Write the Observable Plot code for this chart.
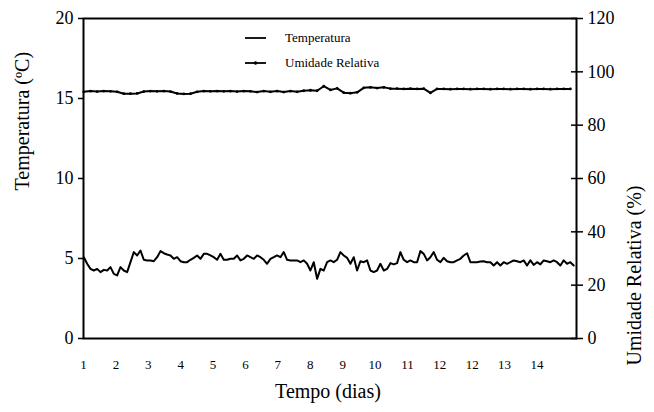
<!DOCTYPE html>
<html><head><meta charset="utf-8">
<script src="https://cdn.jsdelivr.net/npm/d3@7"></script>
<script src="https://cdn.jsdelivr.net/npm/@observablehq/plot@0.6"></script>
<style>
body{margin:0;background:#fff}
#wrap{position:relative;width:654px;height:412px}
#legend{position:absolute;left:0;top:0;pointer-events:none}
</style>
</head><body><div id="wrap"><div id="chart"></div></div>
<script>
const serif = "Liberation Serif, Times New Roman, serif";
// Rótulos do eixo X (como no original)
const rotulosX = ["1","2","3","4","5","6","7","8","9","10","11","12","12","13","14"];
// Escalas dos eixos
const ticksTemperatura = [0,5,10,15,20];
const ticksUmidade = [0,20,40,60,80,100,120];
// Amostragem: início e intervalo (dias)
const inicio = 1.01, passo = 0.10288;
// Temperatura (ºC), uma leitura por intervalo
const temperatura = [
5.08,4.67,4.35,4.25,4.35,4.15,4.29,4.25,4.46,4.04,3.94,4.46,4.25,4.15,4.77,5.40,5.19,5.50,4.92,4.88,
4.88,4.83,5.08,5.46,5.33,5.25,5.19,4.98,5.08,4.83,4.77,4.77,4.92,5.04,5.19,4.98,5.29,5.29,5.19,5.08,
4.92,5.29,4.92,4.92,4.98,4.98,5.19,4.88,4.98,5.19,5.08,4.98,5.19,5.08,4.92,4.67,4.98,5.08,5.19,5.08,
5.40,4.92,4.88,4.88,4.88,4.77,4.88,4.67,4.25,4.77,3.73,4.35,4.25,4.77,
4.88,4.77,4.92,5.40,5.19,5.04,4.67,5.08,4.25,4.83,4.77,4.88,4.25,4.15,4.25,4.67,4.25,4.35,4.71,4.63,
4.71,5.40,4.92,4.77,4.88,4.77,4.77,5.46,5.29,4.88,5.08,5.40,4.92,4.77,5.04,4.83,4.77,4.77,4.88,4.98,
5.19,5.33,4.77,4.77,4.77,4.81,4.83,4.77,4.77,4.56,4.77,4.56,4.77,4.67,4.77,4.88,4.83,4.77,4.88,4.56,
4.88,4.60,4.77,4.63,4.88,4.83,4.77,4.88,4.77,4.56,4.88,4.67,4.77,4.56
];
// Umidade relativa (%), uma leitura a cada dois intervalos
const umidade = [
92.5,92.8,92.6,92.8,92.7,92.5,91.8,91.8,91.9,92.6,92.8,92.7,92.8,92.6,91.9,91.7,91.8,92.5,92.8,92.7,
92.8,92.7,92.8,92.6,92.8,92.7,92.4,92.8,92.5,92.8,92.4,92.8,92.5,92.9,93.1,92.9,94.6,93.2,93.8,92.2,
92.0,92.3,94.0,94.2,93.9,94.2,93.7,93.7,93.6,93.7,93.6,93.7,92.1,93.6,93.6,93.5,93.6,93.6,93.5,93.6,
93.6,93.5,93.6,93.6,93.5,93.6,93.6,93.5,93.6,93.6,93.5,93.6,93.6,93.6
];

const dadosT = temperatura.map((v,i)=>({t: inicio + i*passo, v}));
const dadosU = umidade.map((v,i)=>({t: inicio + i*2*passo, v}));
const fator = 120/20; // umidade -> escala de temperatura

const chart = Plot.plot({
  width: 654, height: 412,
  marginTop: 18, marginBottom: 74, marginLeft: 83, marginRight: 78,
  style: {color: "black", background: "white", fontSize: "18px", fontFamily: serif},
  x: {domain: [1, 16.22]},
  y: {domain: [0, 20]},
  marks: [
    Plot.axisX(d3.range(1, 16), {tickSize: 0, tickPadding: 21, tickFormat: (d,i) => rotulosX[i], fontSize: 13, fontFamily: serif, label: null}),
    Plot.axisY(ticksTemperatura, {anchor: "left", tickSize: 5, tickPadding: 5, fontSize: 18, fontFamily: serif, label: null, strokeWidth: 1.5}),
    Plot.axisY(ticksUmidade.map(d => d/fator), {anchor: "right", tickSize: 6, tickPadding: 5, fontSize: 18, fontFamily: serif, label: null, tickFormat: d => Math.round(d*fator), strokeWidth: 1.5}),
    Plot.axisY(ticksUmidade.map(d => d/fator), {anchor: "right", tickSize: -6, tickFormat: () => "", label: null, strokeWidth: 1.5}),
    Plot.frame({stroke: "black", strokeWidth: 2}),
    Plot.line(dadosT, {x: "t", y: "v", stroke: "black", strokeWidth: 2}),
    Plot.line(dadosU, {x: "t", y: d => d.v/fator, stroke: "black", strokeWidth: 2}),
    Plot.dot(dadosU, {x: "t", y: d => d.v/fator, r: 1.4, fill: "black"}),
    Plot.text(["Temperatura (ºC)"], {frameAnchor: "left", dx: -61, dy: 12, rotate: -90, fontSize: 20, fontFamily: serif}),
    Plot.text(["Umidade Relativa (%)"], {frameAnchor: "right", dx: 58, dy: 7, rotate: -90, fontSize: 20, fontFamily: serif}),
    Plot.text(["Tempo (dias)"], {frameAnchor: "bottom", dy: 59, dx: -2, fontSize: 20, fontFamily: serif})
  ]
});
d3.select(chart).selectAll("text").style("font-family", serif);
document.getElementById("chart").appendChild(chart);

// Legenda
const leg = d3.select("#wrap").append("svg").attr("id","legend").attr("width",654).attr("height",412);
const itens = [{nome: "Temperatura", marcador: false}, {nome: "Umidade Relativa", marcador: true}];
itens.forEach((it, i) => {
  const y = 38 + i*25;
  leg.append("line").attr("x1",245).attr("x2",266).attr("y1",y).attr("y2",y).attr("stroke","black").attr("stroke-width",1.8);
  if (it.marcador) leg.append("circle").attr("cx",255.5).attr("cy",y).attr("r",1.8).attr("fill","black");
  leg.append("text").attr("x",285).attr("y",y+1).attr("dominant-baseline","middle")
    .attr("font-size",13).attr("font-family",serif).attr("fill","black").text(it.nome);
});
</script>
</body></html>
